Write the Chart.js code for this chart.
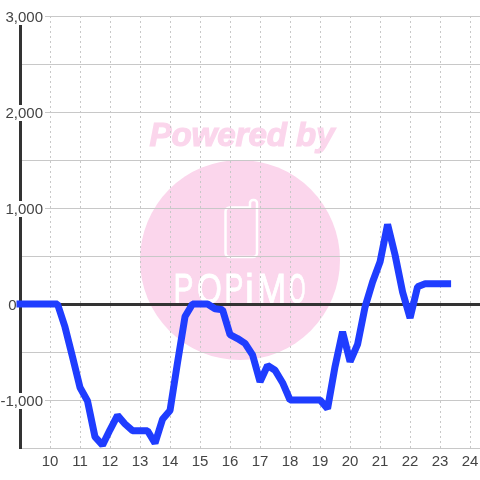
<!DOCTYPE html>
<html>
<head>
<meta charset="utf-8">
<style>
  html, body { margin: 0; padding: 0; background: #fff; }
  canvas { display: block; }
</style>
<script src="https://cdn.jsdelivr.net/npm/chart.js@4/dist/chart.umd.min.js"></script>
</head>
<body>
<canvas id="chart" width="480" height="480"></canvas>
<script>
  // ── DATA ──────────────────────────────────────────────────────────
  const hours = [
    9, 9.25, 9.5, 9.75, 10, 10.25, 10.5, 10.75, 11, 11.25, 11.5, 11.75,
    12, 12.25, 12.5, 12.75, 13, 13.25, 13.5, 13.75, 14, 14.25, 14.5, 14.75,
    15, 15.25, 15.5, 15.75, 16, 16.25, 16.5, 16.75, 17, 17.25, 17.5, 17.75,
    18, 18.25, 18.5, 18.75, 19, 19.25, 19.5, 19.75, 20, 20.25, 20.5, 20.75,
    21, 21.25, 21.5, 21.75, 22, 22.25, 22.5, 22.75, 23, 23.25
  ];
  const values = [
    0, 0, 0, 0, 0, 0, -240, -550, -870, -1010, -1385, -1470,
    -1310, -1160, -1250, -1320, -1320, -1320, -1450, -1200, -1110, -610, -130, 0,
    0, 0, -50, -60, -320, -360, -410, -530, -810, -640, -690, -820,
    -1000, -1000, -1000, -1000, -1000, -1090, -650, -290, -600, -420, -30, 230,
    440, 830, 510, 125, -145, 180, 210, 210, 210, 210
  ];
  const yLabels = ['3,000', '2,000', '1,000', '0', '-1,000'];
  const yLabelValues = [3000, 2000, 1000, 0, -1000];

  // ── WATERMARK ─────────────────────────────────────────────────────
  const PINK = '#fbd6ec';
  const watermark = {
    id: 'watermark',
    beforeDraw(chart) {
      const { ctx } = chart;
      ctx.save();
      ctx.fillStyle = '#fff';
      ctx.fillRect(0, 0, 480, 480);

      ctx.fillStyle = PINK;
      ctx.beginPath();
      ctx.arc(240, 260, 100, 0, Math.PI * 2);
      ctx.fill();

      ctx.font = "italic bold 33px 'Liberation Sans'";
      ctx.textAlign = 'center';
      ctx.textBaseline = 'alphabetic';
      ctx.strokeStyle = PINK;
      ctx.lineWidth = 1.2;
      ctx.fillText('Powered by', 242, 146);
      ctx.strokeText('Powered by', 242, 146);

      // phone icon
      ctx.strokeStyle = '#fff';
      ctx.lineWidth = 2.5;
      ctx.beginPath();
      ctx.moveTo(250, 207.5);
      ctx.lineTo(250, 202);
      ctx.arcTo(250, 200, 257, 200, 3);
      ctx.arcTo(257, 200, 257, 207, 3);
      ctx.lineTo(257, 253);
      ctx.arcTo(257, 257, 252, 257, 4);
      ctx.lineTo(230, 257);
      ctx.arcTo(225.5, 257, 225.5, 252, 4);
      ctx.lineTo(225.5, 212);
      ctx.arcTo(225.5, 207.5, 230, 207.5, 4);
      ctx.closePath();
      ctx.stroke();

      // logo name, each letter stretched to its box
      ctx.fillStyle = '#fff';
      ctx.strokeStyle = '#fff';
      ctx.lineWidth = 0.4;
      ctx.font = "20px 'Liberation Sans'";
      ctx.textAlign = 'left';
      const letters = ['P', 'Q', 'P', 'i', 'M', 'O'];
      const lefts = [175, 197, 226, 247, 259, 289];
      const widths = [18, 24, 17, 6, 26, 16];
      letters.forEach((ch, i) => {
        const m = ctx.measureText(ch);
        const box = m.actualBoundingBoxRight + m.actualBoundingBoxLeft;
        ctx.save();
        ctx.translate(lefts[i], 303);
        ctx.scale(widths[i] / box, 30 / m.actualBoundingBoxAscent);
        ctx.fillText(ch, m.actualBoundingBoxLeft, 0);
        ctx.strokeText(ch, m.actualBoundingBoxLeft, 0);
        ctx.restore();
      });
      ctx.restore();
    }
  };

  // ── CHART ─────────────────────────────────────────────────────────
  Chart.defaults.font.family = "'Liberation Sans', sans-serif";
  Chart.defaults.font.size = 15;
  Chart.defaults.color = '#444';

  new Chart(document.getElementById('chart'), {
    type: 'scatter',
    data: {
      datasets: [{
        data: hours.map((h, i) => ({ x: h, y: values[i] })),
        showLine: true,
        borderColor: '#1f3dff',
        borderWidth: 7,
        borderCapStyle: 'square',
        borderJoinStyle: 'bevel',
        pointRadius: 0,
        tension: 0,
        clip: false
      }]
    },
    options: {
      responsive: false,
      animation: false,
      layout: { padding: { top: 16 }, autoPadding: false },
      plugins: { legend: { display: false }, tooltip: { enabled: false } },
      scales: {
        x: {
          type: 'linear',
          min: 9,
          max: 24.33,
          afterFit(scale) {
            scale.height = 32;
            // plot runs to the window edge, no room kept for the last label
            scale.getPadding = () => ({ left: 0, top: 0, right: 0, bottom: 0 });
          },
          border: { display: false, dash: [2, 3] },
          grid: {
            color: c => (c.tick.value === 9 ? 'transparent' : '#c8c8c8'),
            lineWidth: 1,
            drawTicks: false
          },
          ticks: {
            stepSize: 1,
            includeBounds: false,
            maxRotation: 0,
            autoSkip: false,
            padding: 5,
            callback: v => (v === 9 ? '' : String(v))
          }
        },
        y: {
          min: -1500,
          max: 3000,
          afterFit(scale) {
            scale.width = 20;
            // labels hang over the plot, so no clipping at the axis
            scale._computeLabelArea = () => undefined;
            const compute = scale._computeLabelItems;
            scale._computeLabelItems = function (area) {
              const items = compute.call(this, area);
              items.forEach(item => {
                const [x, y] = item.options.translation;
                const b = item.options.backdrop;
                // "0" sits left of the axis, the rest right-aligned over it
                const nx = item.label === '0' ? 16.6 : x;
                item.options.translation = [nx, y + 1];
                if (b) {
                  b.top = -9;
                  b.height = 16;
                }
              });
              return items;
            };
          },
          border: { color: '#333', width: 3 },
          grid: {
            color: c => (c.tick.value === 0 ? '#333' : '#c8c8c8'),
            lineWidth: c => (c.tick.value === 0 ? 3 : 1),
            drawTicks: false
          },
          ticks: {
            stepSize: 500,
            padding: -23,
            autoSkip: false,
            showLabelBackdrop: true,
            backdropColor: c => (yLabelValues.includes(c.tick.value) && c.tick.value !== 0 ? '#fff' : 'transparent'),
            callback: v => {
              const i = yLabelValues.indexOf(v);
              return i >= 0 ? yLabels[i] : '';
            }
          }
        }
      }
    },
    plugins: [watermark]
  });
</script>
</body>
</html>
